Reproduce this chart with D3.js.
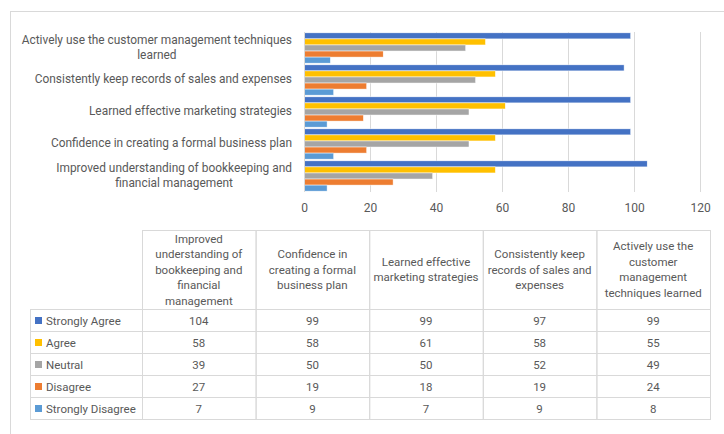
<!DOCTYPE html>
<html>
<head>
<meta charset="utf-8">
<script src="https://cdn.jsdelivr.net/npm/d3@7"></script>
<style>
  html, body { margin: 0; padding: 0; background: #fff; }
  svg { display: block; font-family: Roboto, "Open Sans", sans-serif; }
</style>
</head>
<body>
<svg id="chart" width="724" height="434"></svg>
<script>
// survey outcomes: clustered horizontal bars + data table underneath

var categories = [
  "Improved understanding of bookkeeping and financial management",
  "Confidence in creating a formal business plan",
  "Learned effective marketing strategies",
  "Consistently keep records of sales and expenses",
  "Actively use the customer management techniques learned"
];
// line breaks as they appear on the axis and in the table header
var axisLines = [
  ["Improved understanding of bookkeeping and", "financial management"],
  ["Confidence in creating a formal business plan"],
  ["Learned effective marketing strategies"],
  ["Consistently keep records of sales and expenses"],
  ["Actively use the customer management techniques", "learned"]
];
var headerLines = [
  ["Improved", "understanding of", "bookkeeping and", "financial", "management"],
  ["Confidence in", "creating a formal", "business plan"],
  ["Learned effective", "marketing strategies"],
  ["Consistently keep", "records of sales and", "expenses"],
  ["Actively use the", "customer", "management", "techniques learned"]
];

var seriesNames = ["Strongly Agree", "Agree", "Neutral", "Disagree", "Strongly Disagree"];
var seriesColors = ["#4472c4", "#ffc000", "#a5a5a5", "#ed7d31", "#5b9bd5"];
var stronglyAgree    = [104, 99, 99, 97, 99];
var agree            = [58, 58, 61, 58, 55];
var neutral          = [39, 50, 50, 52, 49];
var disagree         = [27, 19, 18, 19, 24];
var stronglyDisagree = [7, 9, 7, 9, 8];
var xTicks = [0, 20, 40, 60, 80, 100, 120];

var seriesValues = [stronglyAgree, agree, neutral, disagree, stronglyDisagree];

var TEXT = "#595959", GRID = "#d9d9d9";
var svg = d3.select("#chart");

// outer chart frame (cropped at right and bottom in the source)
svg.append("rect")
  .attr("x", 10.5).attr("y", 11.5)
  .attr("width", 730).attr("height", 440)
  .attr("fill", "#fff").attr("stroke", GRID);

// ── bar chart ────────────────────────────────────────────────
var x = d3.scaleLinear().domain([0, 120]).range([304, 700]);
var y = d3.scaleBand()
  .domain(d3.range(categories.length).reverse())
  .range([32, 192]);
var inner = d3.scaleBand()
  .domain(d3.range(seriesNames.length))
  .range([0, y.bandwidth()])
  .paddingOuter(0.14);

svg.append("g").selectAll("line")
  .data(xTicks.slice(1))
  .join("line")
  .attr("x1", function (d) { return x(d) + 0.5; })
  .attr("x2", function (d) { return x(d) + 0.5; })
  .attr("y1", 32).attr("y2", 192)
  .attr("stroke", GRID);

var groups = svg.append("g").selectAll("g")
  .data(categories)
  .join("g")
  .attr("transform", function (d, i) { return "translate(0," + y(i) + ")"; });

groups.selectAll("rect")
  .data(function (d, i) {
    return seriesValues.map(function (vals, s) { return { s: s, v: vals[i] }; });
  })
  .join("rect")
  .attr("x", x(0))
  .attr("y", function (d) { return inner(d.s); })
  .attr("width", function (d) { return x(d.v) - x(0); })
  .attr("height", inner.bandwidth())
  .attr("fill", function (d) { return seriesColors[d.s]; })
  .attr("stroke", "#fff").attr("stroke-width", 0.5);

// vertical axis line
svg.append("line")
  .attr("x1", x(0) + 0.5).attr("x2", x(0) + 0.5)
  .attr("y1", 32).attr("y2", 192)
  .attr("stroke", GRID);

var xAxis = svg.append("g")
  .attr("transform", "translate(0,192)")
  .call(d3.axisBottom(x).tickValues(xTicks).tickSize(0).tickPadding(11));
xAxis.select(".domain").remove();
xAxis.selectAll("text")
  .attr("fill", TEXT).style("font-size", "12px").style("font-family", "Roboto, sans-serif");

// category labels
var catLabels = svg.append("g").selectAll("text")
  .data(axisLines)
  .join("text")
  .attr("text-anchor", "middle")
  .attr("fill", TEXT)
  .style("font-size", "11.9px");
catLabels.each(function (lines, i) {
  var t = d3.select(this);
  var cy = y(i) + y.bandwidth() / 2 - 1;
  var lh = 15;
  lines.forEach(function (ln, k) {
    t.append("tspan")
      .attr("x", 0)
      .attr("y", cy + (k - (lines.length - 1) / 2) * lh)
      .attr("dy", "0.35em")
      .text(ln);
  });
});
// right-align the block of lines, centre each line inside it
catLabels.each(function () {
  var t = d3.select(this);
  var w = this.getBBox().width;
  t.selectAll("tspan").attr("x", 292 - w / 2);
});

// ── data table ───────────────────────────────────────────────
var cols = d3.scaleBand().domain(d3.range(categories.length)).range([142, 710]);
var rows = d3.scaleBand().domain(d3.range(seriesNames.length)).range([309, 419]);
var headTop = 230, legLeft = 30;

var tbl = svg.append("g");

// header cells
tbl.selectAll("rect.head")
  .data(headerLines)
  .join("rect")
  .attr("class", "head")
  .attr("x", function (d, i) { return cols(i) + 0.5; })
  .attr("y", headTop + 0.5)
  .attr("width", cols.bandwidth())
  .attr("height", rows(0) - headTop)
  .attr("fill", "none").attr("stroke", GRID);

tbl.selectAll("text.head")
  .data(headerLines)
  .join("text")
  .attr("class", "head")
  .attr("text-anchor", "middle")
  .attr("fill", TEXT)
  .style("font-size", "11.5px")
  .each(function (lines, i) {
    var t = d3.select(this);
    var cx = cols(i) + cols.bandwidth() / 2;
    var cy = (headTop + rows(0)) / 2;
    var lh = 15.5;
    lines.forEach(function (ln, k) {
      t.append("tspan")
        .attr("x", cx)
        .attr("y", cy + (k - (lines.length - 1) / 2) * lh)
        .attr("dy", "0.35em")
        .text(ln);
    });
  });

// body rows
var rowG = tbl.selectAll("g.row")
  .data(seriesNames)
  .join("g")
  .attr("class", "row")
  .attr("transform", function (d, s) { return "translate(0," + rows(s) + ")"; });

rowG.append("rect")
  .attr("x", legLeft + 0.5).attr("y", 0.5)
  .attr("width", cols(0) - legLeft).attr("height", rows.bandwidth())
  .attr("fill", "none").attr("stroke", GRID);

rowG.append("rect")
  .attr("x", 35).attr("y", rows.bandwidth() / 2 - 3)
  .attr("width", 7).attr("height", 7)
  .attr("fill", function (d, s) { return seriesColors[s]; });

rowG.append("text")
  .attr("x", 46).attr("y", rows.bandwidth() / 2 + 1)
  .attr("dy", "0.35em")
  .attr("fill", TEXT)
  .style("font-size", "11.5px")
  .text(function (d) { return d; });

rowG.each(function (name, s) {
  var g = d3.select(this);
  seriesValues[s].forEach(function (v, i) {
    g.append("rect")
      .attr("x", cols(i) + 0.5).attr("y", 0.5)
      .attr("width", cols.bandwidth()).attr("height", rows.bandwidth())
      .attr("fill", "none").attr("stroke", GRID);
    g.append("text")
      .attr("x", cols(i) + cols.bandwidth() / 2)
      .attr("y", rows.bandwidth() / 2 + 1)
      .attr("dy", "0.35em")
      .attr("text-anchor", "middle")
      .attr("fill", TEXT)
      .style("font-size", "11.5px")
      .text(v);
  });
});
</script>
</body>
</html>
